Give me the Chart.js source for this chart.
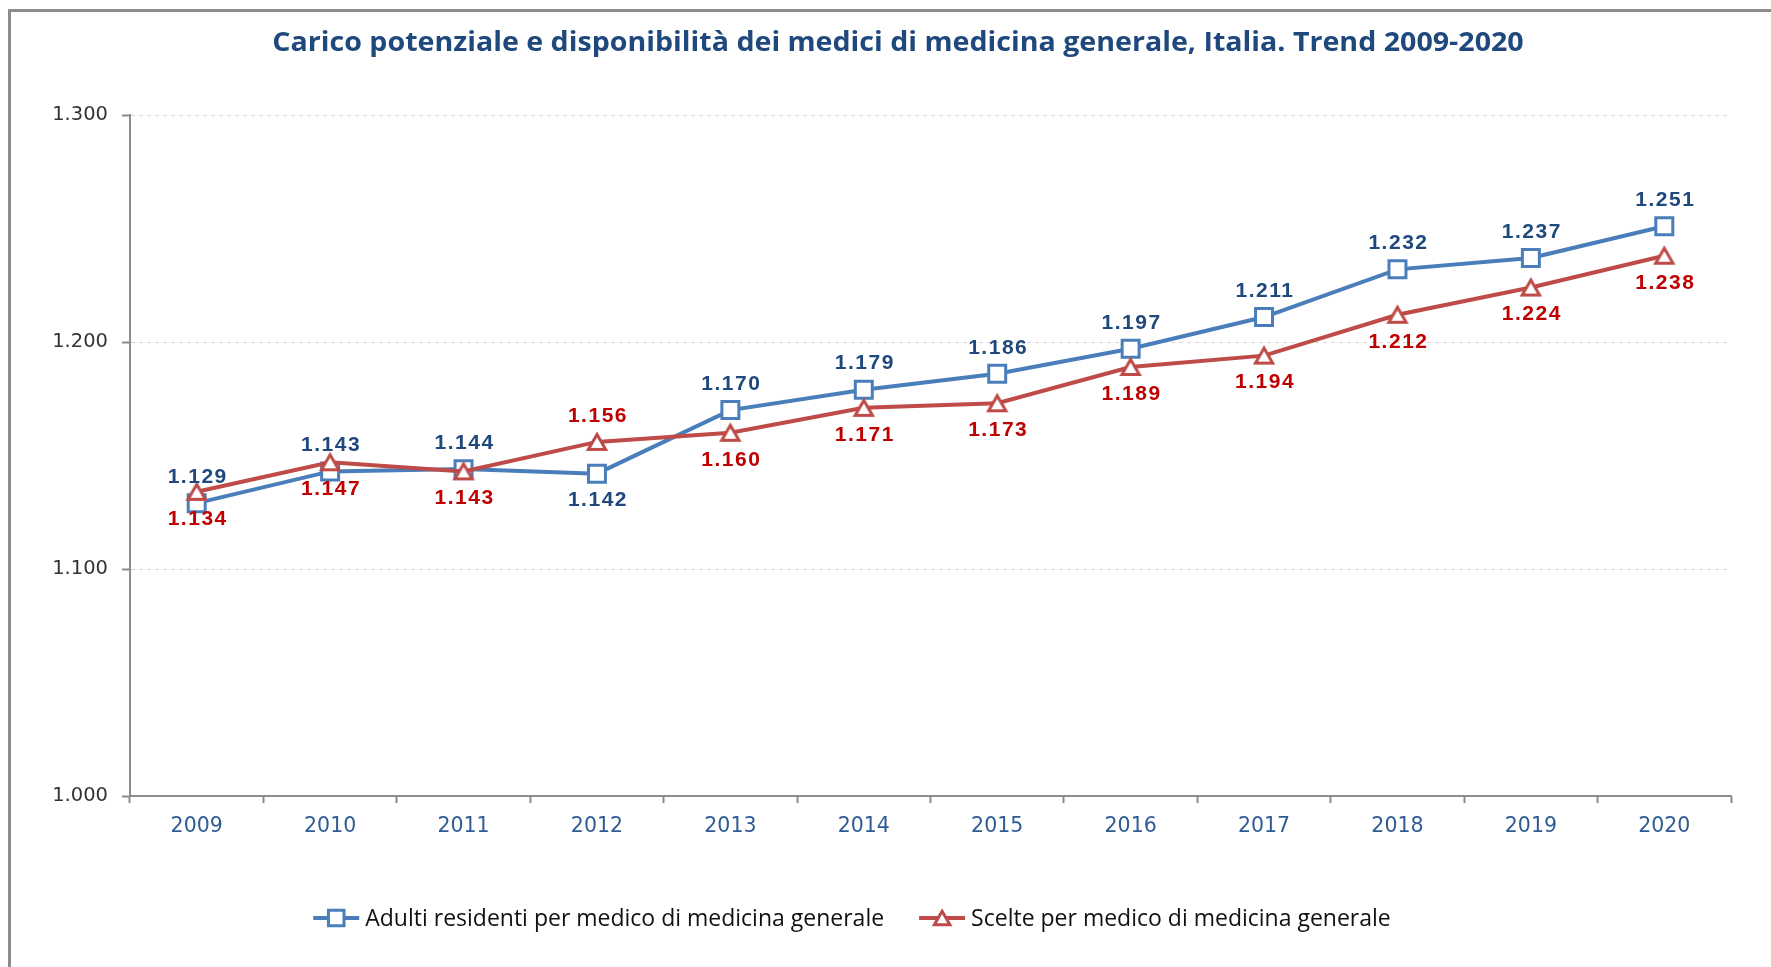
<!DOCTYPE html>
<html>
<head>
<meta charset="utf-8">
<script src="https://cdn.jsdelivr.net/npm/chart.js@4.4.0/dist/chart.umd.min.js"></script>
<style>
html,body{margin:0;padding:0;background:#fff;}
#wrap{position:relative;width:1771px;height:967px;overflow:hidden;}
#frame{position:absolute;left:8px;top:9px;right:-5px;bottom:-5px;border-left:3px solid #8c8c8c;border-top:3px solid #8c8c8c;}
canvas{position:absolute;left:0;top:0;}
</style>
</head>
<body>
<div id="wrap"><div id="frame"></div><canvas id="c" width="1771" height="967"></canvas></div>
<script>
const titleText = "Carico potenziale e disponibilità dei medici di medicina generale, Italia. Trend 2009-2020";
const years = ['2009','2010','2011','2012','2013','2014','2015','2016','2017','2018','2019','2020'];
const adulti = [1129,1143,1144,1142,1170,1179,1186,1197,1211,1232,1237,1251];
const scelte = [1134,1147,1143,1156,1160,1171,1173,1189,1194,1212,1224,1238];
// where each value label sits relative to its point
const adultiPos = ['up','up','up','down','up','up','up','up','up','up','up','up'];
const sceltePos = ['down','down','down','up','down','down','down','down','down','down','down','down'];
const seriesNames = ['Adulti residenti per medico di medicina generale','Scelte per medico di medicina generale'];
const yMin = 1000, yMax = 1300, yStep = 100;

const BLUE = '#4A7EBB', RED = '#BE4B48';
const fmt = v => Math.floor(v/1000) + '.' + String(v%1000).padStart(3,'0');

function marker(ctx, style, x, y, r, color) {
    ctx.save();
    ctx.fillStyle = '#fff'; ctx.strokeStyle = color; ctx.lineWidth = 3;
    ctx.beginPath();
    if (style === 'rect') { const s = r*Math.SQRT1_2; ctx.rect(x-s, y-s, 2*s, 2*s); }
    else { ctx.moveTo(x, y-0.75*r); ctx.lineTo(x+0.866*r, y+0.75*r); ctx.lineTo(x-0.866*r, y+0.75*r); ctx.closePath(); }
    ctx.fill(); ctx.stroke();
    ctx.restore();
}

// triangle centred on its box, like the office chart does
function triangleImg(r, color) {
    const c = document.createElement('canvas');
    c.width = 26; c.height = 26;
    marker(c.getContext('2d'), 'triangle', 13, 13, r, color);
    return c;
}

const overlay = {
    id: 'overlay',
    afterDatasetsDraw(chart) {
        const ctx = chart.ctx;
        ctx.save();
        ctx.font = 'bold 21px "Liberation Sans"';
        ctx.letterSpacing = '1.5px';
        ctx.textAlign = 'center'; ctx.textBaseline = 'middle';
        chart.data.datasets.forEach((ds, i) => {
            const meta = chart.getDatasetMeta(i);
            meta.data.forEach((pt, j) => {
                const dy = ds.labelPos[j] === 'up' ? -26 : 27;
                ctx.fillStyle = ds.labelColor;
                ctx.fillText(fmt(ds.data[j]), pt.x + 1, pt.y + dy);
            });
        });
        ctx.restore();
    },
    afterDraw(chart) {
        const ctx = chart.ctx;
        ctx.save();
        // title
        ctx.font = 'bold 26px "Open Sans"';
        ctx.fillStyle = '#1F497D';
        ctx.textAlign = 'center'; ctx.textBaseline = 'middle';
        ctx.save(); ctx.translate(898, 44); ctx.scale(1.1, 1);
        ctx.fillText(titleText, 0, 0);
        ctx.restore();
        // legend
        ctx.font = '23px "Open Sans"';
        ctx.fillStyle = '#111';
        ctx.textAlign = 'left';
        const items = [chart.data.datasets[1], chart.data.datasets[0]];
        const lineW = 46, gapT = 6, gapI = 35;
        const widths = items.map(d => lineW + gapT + ctx.measureText(d.label).width);
        const total = widths.reduce((a,b)=>a+b,0) + gapI;
        let x = 852 - total/2, y = 918;
        items.forEach((d, k) => {
            ctx.strokeStyle = d.borderColor; ctx.lineWidth = 4;
            ctx.beginPath(); ctx.moveTo(x, y); ctx.lineTo(x+lineW, y); ctx.stroke();
            const sq = d.label === seriesNames[0];
            marker(ctx, sq ? 'rect' : 'triangle', x+lineW/2, y, sq ? 11 : 9, d.borderColor);
            ctx.fillText(d.label, x + lineW + gapT, y + 1);
            x += widths[k] + gapI;
        });
        ctx.restore();
    }
};

new Chart(document.getElementById('c'), {
    type: 'line',
    data: {
        labels: years,
        datasets: [
            { label: seriesNames[1], data: scelte, order: 0, borderColor: RED, borderWidth: 4,
              pointStyle: triangleImg(10, RED), pointRadius: 10,
              labelPos: sceltePos, labelColor: '#C00000' },
            { label: seriesNames[0], data: adulti, order: 1, borderColor: BLUE, borderWidth: 4,
              pointStyle: 'rect', pointRadius: 12, pointBorderWidth: 3, pointBackgroundColor: '#fff',
              pointBorderColor: BLUE, labelPos: adultiPos, labelColor: '#1F497D' }
        ]
    },
    options: {
        responsive: false, animation: false, devicePixelRatio: 1,
        layout: { padding: { top: 115, right: 40, bottom: 101, left: 0 } },
        plugins: { legend: { display: false }, title: { display: false }, tooltip: { enabled: false } },
        scales: {
            x: {
                offset: true,
                grid: { offset: true, drawOnChartArea: false, drawTicks: true, tickLength: 7, tickColor: '#8c8c8c', tickWidth: 2 },
                border: { display: true, color: '#8c8c8c', width: 2 },
                ticks: { color: '#2F5C94', font: { family: 'DejaVu Sans', size: 20.5 }, padding: 11 },
                afterFit: s => { s.height = 70; }
            },
            y: {
                min: yMin, max: yMax,
                grid: { color: c => c.tick && c.tick.value === yMin ? 'rgba(0,0,0,0)' : '#d6d6d6', lineWidth: 1,
                        drawTicks: true, tickLength: 8, tickColor: '#8c8c8c', tickWidth: 2 },
                border: { display: true, color: '#8c8c8c', width: 2, dash: [4,4] },
                ticks: { stepSize: yStep, callback: v => fmt(v), color: '#333', font: { family: 'DejaVu Sans', size: 19.5 }, padding: 14 },
                afterFit: s => { s.width = 130; }
            }
        }
    },
    plugins: [overlay]
});
</script>
</body>
</html>
